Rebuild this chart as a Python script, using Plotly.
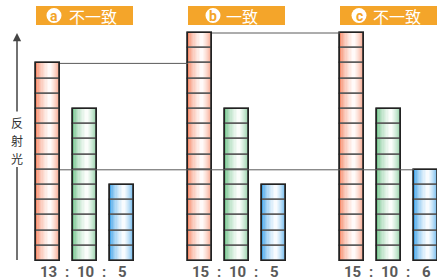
import plotly.graph_objects as go

# ---------------- data ----------------
groups = ["a", "b", "c"]
group_titles = ["不一致", "一致", "不一致"]
red_values = [13, 15, 15]
green_values = [10, 10, 10]
blue_values = [5, 5, 6]
axis_label = "反射光"

# ---------------- layout constants (pixels) ----------------
W, H = 437, 280
BASE_PY = 261          # pixel row of value 0
UNIT_PX = 15.2         # pixels per unit
X0 = 48                # centre of first bar
GROUP_STEP = 152
BAR_STEP = 37
BAR_W = 24

def yd(py):
    return (BASE_PY - py) / UNIT_PX

def centers(j):
    return [X0 + g * GROUP_STEP + j * BAR_STEP for g in range(len(groups))]

series = [
    (red_values, (245, 140, 108)),
    (green_values, (118, 196, 142)),
    (blue_values, (70, 165, 232)),
]

fig = go.Figure()

# reference lines (behind bars), derived from values
rc, gc, bc = centers(0), centers(1), centers(2)
ref_lines = [
    ([rc[0] + BAR_W / 2, rc[1] - BAR_W / 2], red_values[0]),
    ([rc[1] + BAR_W / 2, rc[2] - BAR_W / 2], red_values[1]),
    ([rc[0] + BAR_W / 2, bc[2] - BAR_W / 2], blue_values[2]),
]
for xs, v in ref_lines:
    fig.add_trace(go.Scatter(x=xs, y=[v, v], mode="lines",
                             line=dict(color="#5a5a5a", width=1),
                             hoverinfo="skip", showlegend=False))

# gradient: nested layers narrowing towards a bright core
N = 10
C = 0.56   # relative position of the brightest point
for j, (vals, base) in enumerate(series):
    xs = centers(j)
    for k in range(N):
        s = 1 - k / N                      # layer extent scale
        w = (k / (N - 1)) ** 0.6 * 0.96    # whiteness
        col = tuple(int(round(b * (1 - w) + 255 * w)) for b in base)
        left = -BAR_W / 2 + C * BAR_W * (1 - s)
        width = BAR_W * s
        fig.add_trace(go.Bar(
            x=xs, y=vals, width=[width] * len(xs), offset=[left] * len(xs),
            marker=dict(color="rgb(%d,%d,%d)" % col, line=dict(width=0)),
            hoverinfo="skip", showlegend=False))

# unit segment lines
for j, (vals, base) in enumerate(series):
    xs_all, bases = [], []
    for x, v in zip(centers(j), vals):
        for k in range(v):
            xs_all.append(x)
            bases.append(k)
    fig.add_trace(go.Bar(
        x=xs_all, y=[1] * len(xs_all), base=bases, width=BAR_W,
        marker=dict(color="rgba(0,0,0,0)", line=dict(color="#5c5c5c", width=1.6)),
        hoverinfo="skip", showlegend=False))

# outer outline
for j, (vals, base) in enumerate(series):
    fig.add_trace(go.Bar(
        x=centers(j), y=vals, width=BAR_W,
        marker=dict(color="rgba(0,0,0,0)", line=dict(color="#222", width=1.6)),
        hoverinfo="skip", showlegend=False))

shapes = []
annotations = []

# group title boxes
circle_off = [18, 25, 19]
text_off = [57, 54, 57]
for g, title in enumerate(group_titles):
    left = rc[g] - BAR_W / 2
    shapes.append(dict(type="rect", xref="x", yref="y",
                       x0=left, x1=left + 97, y0=yd(25), y1=yd(6),
                       fillcolor="#F4A52A", line=dict(width=0), layer="above"))
    cx = left + circle_off[g]
    shapes.append(dict(type="circle", xref="x", yref="y",
                       x0=cx - 7.5, x1=cx + 7.5, y0=yd(23), y1=yd(8),
                       fillcolor="white", line=dict(width=0), layer="above"))
    annotations.append(dict(x=cx, y=yd(16), xref="x", yref="y", text="<b>%s</b>" % groups[g],
                            showarrow=False, xanchor="center", yanchor="middle",
                            font=dict(family="Roboto, Arial", size=14, color="#F4A52A")))
    annotations.append(dict(x=left + text_off[g], y=yd(15.5), xref="x", yref="y", text=title,
                            showarrow=False, xanchor="center", yanchor="middle",
                            font=dict(family="Noto Sans CJK SC", size=16, color="white")))

# ratio labels below bars
for g in range(len(groups)):
    vals = [red_values[g], green_values[g], blue_values[g]]
    xs = [rc[g], gc[g], bc[g]]
    for x, v in zip(xs, vals):
        annotations.append(dict(x=x, y=yd(272), xref="x", yref="y", text="<b>%d</b>" % v,
                                showarrow=False, xanchor="center", yanchor="middle",
                                font=dict(family="Roboto, Arial", size=15, color="#5a5a5a")))
    for k in range(2):
        xm = (xs[k] + xs[k + 1]) / 2
        annotations.append(dict(x=xm, y=yd(272), xref="x", yref="y", text="<b>:</b>",
                                showarrow=False, xanchor="center", yanchor="middle",
                                font=dict(family="Roboto, Arial", size=15, color="#5a5a5a")))

# vertical axis arrow and label
annotations.append(dict(x=17, y=yd(33), ax=17, ay=yd(113), xref="x", yref="y",
                        axref="x", ayref="y", text="", showarrow=True,
                        arrowhead=2, arrowsize=1.1, arrowwidth=1.5, arrowcolor="#444"))
shapes.append(dict(type="line", xref="x", yref="y", x0=17, x1=17, y0=yd(167), y1=yd(260),
                   line=dict(color="#444", width=1.5)))
for i, ch in enumerate(axis_label):
    annotations.append(dict(x=17, y=yd(122 + 18 * i), xref="x", yref="y",
                            text=ch, showarrow=False, borderpad=0,
                            xanchor="center", yanchor="middle",
                            font=dict(family="Noto Sans CJK SC", size=12, color="#333")))

fig.update_layout(
    width=W, height=H, autosize=False,
    margin=dict(l=0, r=0, t=0, b=0),
    paper_bgcolor="white", plot_bgcolor="white",
    barmode="overlay", bargap=0,
    xaxis=dict(range=[0, W], visible=False, fixedrange=True),
    yaxis=dict(range=[yd(H), yd(0)], visible=False, fixedrange=True),
    shapes=shapes, annotations=annotations,
    showlegend=False,
)

fig.write_html("out.html", config={"displayModeBar": False},
               post_script="document.body.style.margin='0';document.body.style.overflow='hidden';")
